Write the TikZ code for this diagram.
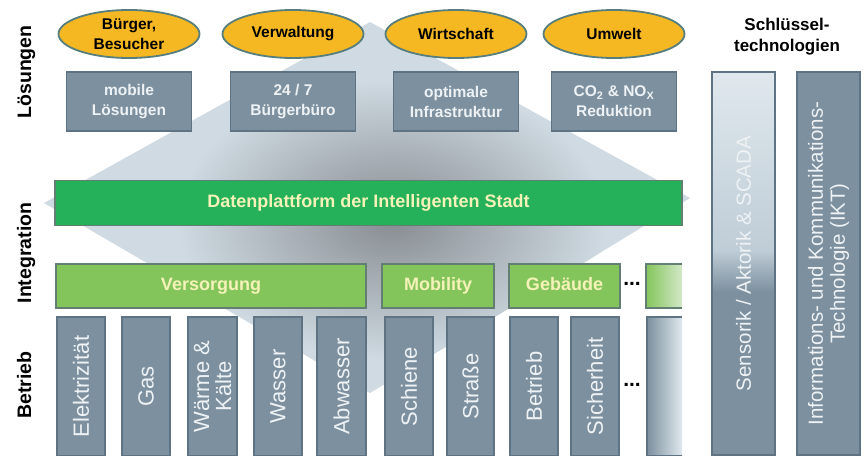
\documentclass[tikz,border=0pt]{standalone}
\usepackage{fontspec}
\setmainfont{Liberation Sans}
\usetikzlibrary{positioning,shapes.geometric}
\definecolor{ellfill}{HTML}{F6B822}
\definecolor{ellline}{HTML}{567E7E}
\definecolor{slatefill}{HTML}{7C909F}
\definecolor{slateline}{HTML}{5E7484}
\definecolor{slatetext}{HTML}{EEF2F4}
\definecolor{paletop}{HTML}{E0E8ED}
\definecolor{palemid}{HTML}{BFCDD7}
\definecolor{datagreen}{HTML}{25B05A}
\definecolor{layergreen}{HTML}{84C55B}
\definecolor{fadegreen}{HTML}{D3E8C8}
\definecolor{greenline}{HTML}{637F74}
\definecolor{greentext}{HTML}{F5F2B8}
\definecolor{bglight}{HTML}{CFDAE2}
\definecolor{bgdark}{HTML}{878C91}
\begin{document}
\begin{tikzpicture}[x=1pt,y=-1pt,on grid,
	goal/.style={ellipse,draw=ellline,line width=1.8pt,fill=ellfill,minimum width=141pt,minimum height=48pt,inner sep=0pt,align=center,font=\bfseries\fontsize{15.5}{20}\selectfont},
	solution/.style={rectangle,draw=slateline,line width=1.5pt,fill=slatefill,text=slatetext,minimum width=125pt,minimum height=59pt,align=center,font=\bfseries\fontsize{15.5}{20}\selectfont},
	platform/.style={rectangle,draw=greenline,line width=1.5pt,fill=datagreen,text=greentext,minimum height=45pt,text height=13pt,text depth=3.5pt,font=\bfseries\fontsize{18}{20}\selectfont},
	sector/.style={platform,fill=layergreen,minimum height=44pt},
	slatecol/.style={rectangle,draw=slateline,line width=1.5pt,fill=slatefill,text=slatetext,rotate=90,minimum width=139pt,minimum height=48pt,inner sep=0pt,align=center,font=\fontsize{22}{22}\selectfont},
	techcol/.style={slatecol,minimum width=383pt,minimum height=63pt,font=\fontsize{20.5}{22}\selectfont},
	rowlabel/.style={rotate=90,font=\bfseries\fontsize{19.5}{22}\selectfont,text height=14.5pt,text depth=4.2pt},
	moredots/.style={font=\bfseries\fontsize{21}{21}\selectfont,inner sep=0pt}]
	\useasboundingbox (0,0) rectangle (867,455);
	\fill[bglight] (370,22) -- (44,203) -- (370,393) -- (690,198) -- cycle;
	\begin{scope}
		\clip (370,22) -- (44,203) -- (370,393) -- (690,198) -- cycle;
		\shade[inner color=bgdark,outer color=bglight] (392,220) ellipse (215 and 140);
	\end{scope}
	\node[goal] (e_1) at (129,34) {Bürger,\\Besucher};
	\node[goal] (e_2) [right=164pt of e_1] {Verwaltung};
	\node[goal] (e_3) [right=163pt of e_2] {Wirtschaft};
	\node[goal] (e_4) [right=158pt of e_3] {Umwelt};
	\node[solution] (s_1) [below=67.5pt of e_1] {mobile\\Lösungen};
	\node[solution] (s_2) [below=67.5pt of e_2] {24 / 7\\Bürgerbüro};
	\node[solution] (s_3) [below=67.5pt of e_3] {optimale\\Infrastruktur};
	\node[solution] (s_4) [below=67.5pt of e_4] {CO\textsubscript{2} \& NO\textsubscript{X}\\Reduktion};
	\node[font=\bfseries\fontsize{17}{21}\selectfont,align=center] (key) at (787,37) {Schlüssel-\\technologien};
	\shade[top color=paletop,bottom color=palemid] (712,72) rectangle (775,250);
	\shade[top color=palemid,bottom color=slatefill] (712,250) rectangle (775,292);
	\fill[slatefill] (712,292) rectangle (775,455);
	\node[techcol,fill=none] (sens) at (743.5,263.5) {Sensorik / Aktorik \& SCADA};
	\node[techcol] (ikt) at (828.5,263.5) {Informations- und Kommunikations-\\Technologie (IKT)};
	\node[platform,minimum width=627pt] (data) at (368.5,203) {Datenplattform der Intelligenten Stadt};
	\node[sector,minimum width=310pt] (vers) at (211,286) {Versorgung};
	\node[sector,minimum width=112pt] (mob) at (438,286) {Mobility};
	\node[sector,minimum width=111pt] (geb) at (564.5,286) {Gebäude};
	\node[moredots] (d_1) at (632,284) {...};
	\node[minimum width=36pt,minimum height=44pt,inner sep=0pt,left color=layergreen,right color=fadegreen] (fg) at (664,286) {};
	\draw[greenline,line width=1.5pt] (fg.north east) -- (fg.north west) -- (fg.south west) -- (fg.south east);
	\node[slatecol] (c_1) at (81,386.5) {Elektrizität};
	\node[slatecol] (c_2) at (146,386.5) {Gas};
	\node[slatecol,minimum height=49pt] (c_3) at (212.5,386.5) {Wärme \&\\Kälte};
	\node[slatecol] (c_4) at (278,386.5) {Wasser};
	\node[slatecol,minimum height=49pt] (c_5) at (341.5,386.5) {Abwasser};
	\node[slatecol] (c_6) at (409,386.5) {Schiene};
	\node[slatecol,minimum height=47pt] (c_7) at (470.5,386.5) {Straße};
	\node[slatecol] (c_8) at (534,386.5) {Betrieb};
	\node[slatecol] (c_9) at (595,386.5) {Sicherheit};
	\node[moredots] (d_2) at (632,385) {...};
	\node[minimum width=35pt,minimum height=139pt,inner sep=0pt,left color=slatefill,right color=paletop] (fc) at (664.5,386.5) {};
	\draw[slateline,line width=1.5pt] (fc.north east) -- (fc.north west) -- (fc.south west) -- (fc.south east);
	\node[rowlabel] (r_1) at (26,72) {Lösungen};
	\node[rowlabel] (r_2) at (26,253) {Integration};
	\node[rowlabel] (r_3) at (26,385) {Betrieb};
\end{tikzpicture}
\end{document}
